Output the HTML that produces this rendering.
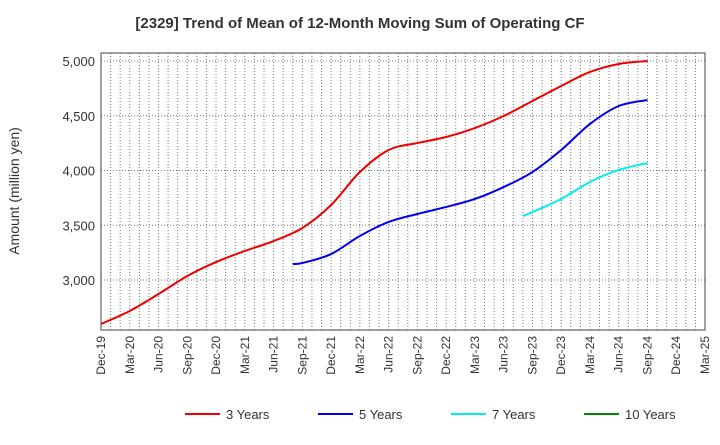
<!DOCTYPE html>
<html><head><meta charset="utf-8"><style>
body{margin:0;background:#fff;font-family:"Liberation Sans",Arial,sans-serif;}
</style></head><body>
<svg id="chart" width="720" height="440" xmlns="http://www.w3.org/2000/svg" font-family="Liberation Sans, Arial, sans-serif">
<text x="360" y="28" text-anchor="middle" font-size="15" font-weight="bold" fill="#333">[2329]  Trend of Mean of 12-Month Moving Sum of Operating CF</text>
<text transform="translate(19,191) rotate(-90)" text-anchor="middle" font-size="14" fill="#333">Amount (million yen)</text>
<g id="grid"></g><g id="axes"></g><g id="series"></g><g id="legend"></g>
</svg>
<script>
const xLabels=["Dec-19","Mar-20","Jun-20","Sep-20","Dec-20","Mar-21","Jun-21","Sep-21","Dec-21","Mar-22","Jun-22","Sep-22","Dec-22","Mar-23","Jun-23","Sep-23","Dec-23","Mar-24","Jun-24","Sep-24","Dec-24","Mar-25"];
const yTicks=[3000,3500,4000,4500,5000];
const yTickLabels=["3,000","3,500","4,000","4,500","5,000"];
// month offsets from Dec-19
const m3=[0,3,6,9,12,15,18,21,24,27,30,33,36,39,42,45,48,51,54,57];
const v3=[2598,2717,2872,3037,3164,3265,3356,3475,3685,3986,4187,4251,4306,4388,4498,4635,4772,4900,4973,5000];
const m5=[20,21,24,27,30,33,36,39,42,45,48,51,54,57];
const v5=[3146,3155,3237,3402,3530,3603,3667,3740,3849,3986,4187,4425,4589,4644];
const m7=[44,45,48,51,54,57];
const v7=[3584,3621,3740,3895,4005,4068];
const m10=[];const v10=[];
const L=101,R=705,T=53,B=330;
const X=m=>L+(R-L)*m/63;
const Y=v=>61+(5000-v)*0.1095;
const ns="http://www.w3.org/2000/svg";
function mk(t,a,p){const e=document.createElementNS(ns,t);for(const k in a)e.setAttribute(k,a[k]);p.appendChild(e);return e;}
const g=document.getElementById('grid'),ax=document.getElementById('axes'),s=document.getElementById('series'),lg=document.getElementById('legend');
for(let m=1;m<63;m++){const l=mk('line',{x1:X(m),x2:X(m),y1:T,y2:B,stroke:'#777','stroke-width':1,'stroke-dasharray':'1,2'},g);

}
yTicks.forEach((v,i)=>{const l=mk('line',{x1:L,x2:R,y1:Y(v),y2:Y(v),stroke:'#777','stroke-width':1,'stroke-dasharray':'1,2'},g);


const t=mk('text',{x:L-6,y:Y(v)+5,'text-anchor':'end','font-size':13,fill:'#333'},ax);t.textContent=yTickLabels[i];

});
const fr=mk('rect',{x:L,y:T,width:R-L,height:B-T,fill:'none',stroke:'#444','stroke-width':1},ax);


xLabels.forEach((lab,i)=>{const x=X(i*3);const t=mk('text',{transform:`translate(${x+4},${B+6}) rotate(-90)`,'text-anchor':'end','font-size':12,fill:'#333'},ax);t.textContent=lab;

});
function path(ms,vs){const p=ms.map((m,i)=>[X(m),Y(vs[i])]);if(!p.length)return '';let d=`M${p[0][0]},${p[0][1]}`;
for(let i=0;i<p.length-1;i++){const p0=p[i-1]||p[i],p1=p[i],p2=p[i+1],p3=p[i+2]||p2;
d+=` C${p1[0]+(p2[0]-p0[0])/6},${p1[1]+(p2[1]-p0[1])/6} ${p2[0]-(p3[0]-p1[0])/6},${p2[1]-(p3[1]-p1[1])/6} ${p2[0]},${p2[1]}`;}return d;}
const series=[["3 Years",m3,v3,"#ee0000"],["5 Years",m5,v5,"#0000ee"],["7 Years",m7,v7,"#00eeee"],["10 Years",m10,v10,"#008800"]];
series.forEach(([n,ms,vs,c],i)=>{if(ms.length){const p=mk('path',{d:path(ms,vs),fill:'none',stroke:c,'stroke-width':2},s);

}
const lx=185+i*133;const l=mk('line',{x1:lx,x2:lx+35,y1:414,y2:414,stroke:c,'stroke-width':2},lg);


const t=mk('text',{x:lx+41,y:419,'font-size':13,fill:'#333'},lg);t.textContent=n;

});
</script>
</body></html>
